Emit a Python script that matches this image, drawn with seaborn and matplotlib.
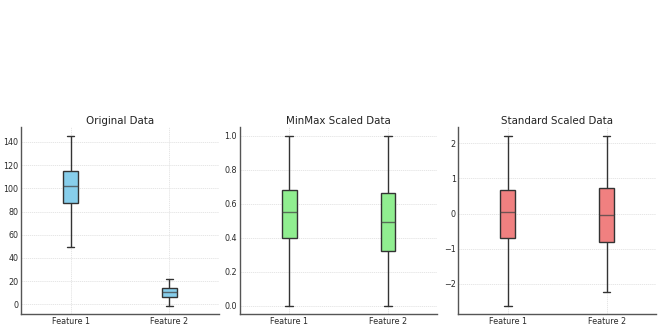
import numpy as np
import pandas as pd
import matplotlib
matplotlib.use("Agg")
import matplotlib.pyplot as plt
import seaborn as sns

features = ["Feature 1", "Feature 2"]
titles = ["Original Data", "MinMax Scaled Data", "Standard Scaled Data"]
box_colors = ["skyblue", "lightgreen", "lightcoral"]

# five-number summaries: [min, q1, median, q3, max]
orig_f1 = [49.0, 87.0, 101.6, 114.8, 145.5]
orig_f2 = [-1.2, 6.2, 10.6, 14.2, 21.8]
minmax_f1 = [0.0, 0.395, 0.548, 0.680, 1.0]
minmax_f2 = [0.0, 0.320, 0.490, 0.665, 1.0]
std_f1 = [-2.62, -0.70, 0.04, 0.67, 2.20]
std_f2 = [-2.24, -0.81, -0.05, 0.74, 2.22]

datasets = [(orig_f1, orig_f2), (minmax_f1, minmax_f2), (std_f1, std_f2)]

sns.set_style("whitegrid")
plt.rcParams["font.family"] = ["DejaVu Sans"]

fig, axes = plt.subplots(1, 3, figsize=(6.6, 3.3), dpi=100)
fig.subplots_adjust(left=0.032, right=0.994, bottom=0.048, top=0.615, wspace=0.107)

edge = "#333333"
for ax, (f1, f2), title, col in zip(axes, datasets, titles, box_colors):
    df = pd.DataFrame({
        "feature": [features[0]] * len(f1) + [features[1]] * len(f2),
        "value": list(f1) + list(f2),
    })
    sns.boxplot(data=df, x="feature", y="value", ax=ax, color=col, saturation=1,
                width=0.15, whis=1.5, linewidth=1.0, linecolor=edge,
                showfliers=False,
                medianprops=dict(color="#444444", alpha=0.75, linewidth=1.0))
    ax.set_title(title, fontsize=7.4, color="#222222", pad=2)
    ax.set_xlabel("")
    ax.set_ylabel("")
    ax.grid(True, color="#e2e2e2", linestyle=(0, (1.5, 1)), linewidth=0.6)
    ax.set_axisbelow(True)
    for s in ["top", "right"]:
        ax.spines[s].set_visible(False)
    for s in ["left", "bottom"]:
        ax.spines[s].set_color("#555555")
        ax.spines[s].set_linewidth(1.0)
    ax.tick_params(axis="both", labelsize=5.8, length=0, colors="#2a2a2a", pad=2)

fig.savefig("out.png", dpi=100)
